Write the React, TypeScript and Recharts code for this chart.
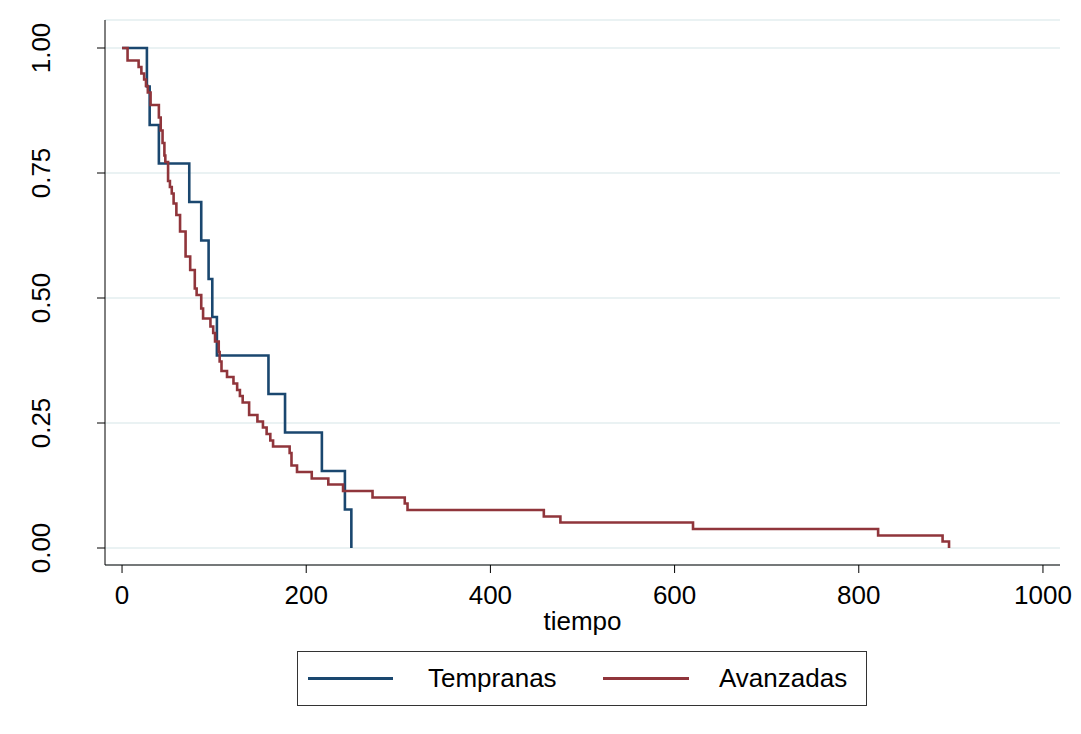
import { CartesianGrid, Label, Line, LineChart, XAxis, YAxis } from 'recharts';

// Kaplan-Meier: tiempo vs. proporción, por grupo
const tempranasT = [0, 27, 30, 40, 73, 86, 94, 98, 103, 159, 177, 217, 242, 249];
const tempranasS = [1, 0.923, 0.846, 0.769, 0.692, 0.615, 0.538, 0.462, 0.385, 0.308, 0.231, 0.154, 0.077, 0];

const avanzadasT = [
  0, 6, 18, 21, 24, 26, 28, 31, 40, 42, 44, 46, 47, 50, 52, 54, 56, 59, 63, 69, 74, 79, 81, 86, 88, 96, 99, 101,
  105, 106, 108, 114, 121, 125, 128, 131, 138, 147, 153, 157, 161, 164, 182, 184, 190, 206, 224, 240, 272, 307,
  310, 458, 476, 620, 821, 891, 898,
];
const avanzadasS = [
  1, 0.975, 0.962, 0.949, 0.937, 0.924, 0.911, 0.886, 0.861, 0.835, 0.81, 0.785, 0.772, 0.734, 0.722, 0.709, 0.689,
  0.666, 0.633, 0.583, 0.556, 0.519, 0.506, 0.479, 0.459, 0.443, 0.43, 0.413, 0.392, 0.373, 0.354, 0.342, 0.329,
  0.316, 0.304, 0.291, 0.266, 0.253, 0.241, 0.228, 0.215, 0.203, 0.19, 0.165, 0.152, 0.139, 0.127, 0.114, 0.101,
  0.089, 0.076, 0.063, 0.051, 0.038, 0.025, 0.013, 0,
];

const xTicks = [0, 200, 400, 600, 800, 1000];
const yTicks = [0, 0.25, 0.5, 0.75, 1];

const tempranas = tempranasT.map((t, i) => ({ t, s: tempranasS[i] }));
const avanzadas = avanzadasT.map((t, i) => ({ t, s: avanzadasS[i] }));

const BLUE = '#1a476f';
const RED = '#90353b';
const FONT = '"Liberation Sans", Arial, Helvetica, sans-serif';

function YTick({ x, y, payload }: any) {
  return (
    <text transform={`translate(${x - 45}, ${y}) rotate(-90)`} textAnchor="middle" fontSize={26} fill="#000" fontFamily={FONT}>
      {Number(payload.value).toFixed(2)}
    </text>
  );
}

export default function App() {
  return (
    <div style={{ position: 'absolute', left: 0, top: 0, width: 1081, height: 734, background: '#fff', fontFamily: FONT }}>
      <LineChart width={1081} height={734} margin={{ top: 20, right: 21, bottom: 94, left: 0 }}>
        <CartesianGrid vertical={false} stroke="#eaf2f3" strokeWidth={2} />
        <XAxis
          dataKey="t"
          type="number"
          domain={[-18.5, 1018.5]}
          ticks={xTicks}
          allowDataOverflow
          height={75}
          tickSize={8}
          tickMargin={13}
          stroke="#000"
          tick={{ fontSize: 26, fill: '#000', fontFamily: FONT }}
        >
          <Label value="tiempo" position="insideBottom" offset={10} fontSize={26} fill="#000" fontFamily={FONT} />
        </XAxis>
        <YAxis
          dataKey="s"
          type="number"
          domain={[-0.034, 1.056]}
          ticks={yTicks}
          allowDataOverflow
          width={105}
          tickSize={8}
          tickMargin={2}
          stroke="#000"
          tick={<YTick />}
        />
        <Line data={tempranas} dataKey="s" type="stepAfter" stroke={BLUE} strokeWidth={2.6} dot={false} isAnimationActive={false} />
        <Line data={avanzadas} dataKey="s" type="stepAfter" stroke={RED} strokeWidth={2.6} dot={false} isAnimationActive={false} />
      </LineChart>
      <div
        style={{
          position: 'absolute',
          left: 297,
          top: 651,
          width: 570,
          height: 55,
          border: '1px solid #333',
          boxSizing: 'border-box',
          fontSize: 26,
          color: '#000',
        }}
      >
        <div style={{ position: 'absolute', left: 10, top: 25, width: 85, height: 3, background: BLUE }} />
        <div style={{ position: 'absolute', left: 130, top: 10, lineHeight: '32px' }}>Tempranas</div>
        <div style={{ position: 'absolute', left: 305, top: 25, width: 86, height: 3, background: RED }} />
        <div style={{ position: 'absolute', left: 421, top: 10, lineHeight: '32px' }}>Avanzadas</div>
      </div>
    </div>
  );
}
